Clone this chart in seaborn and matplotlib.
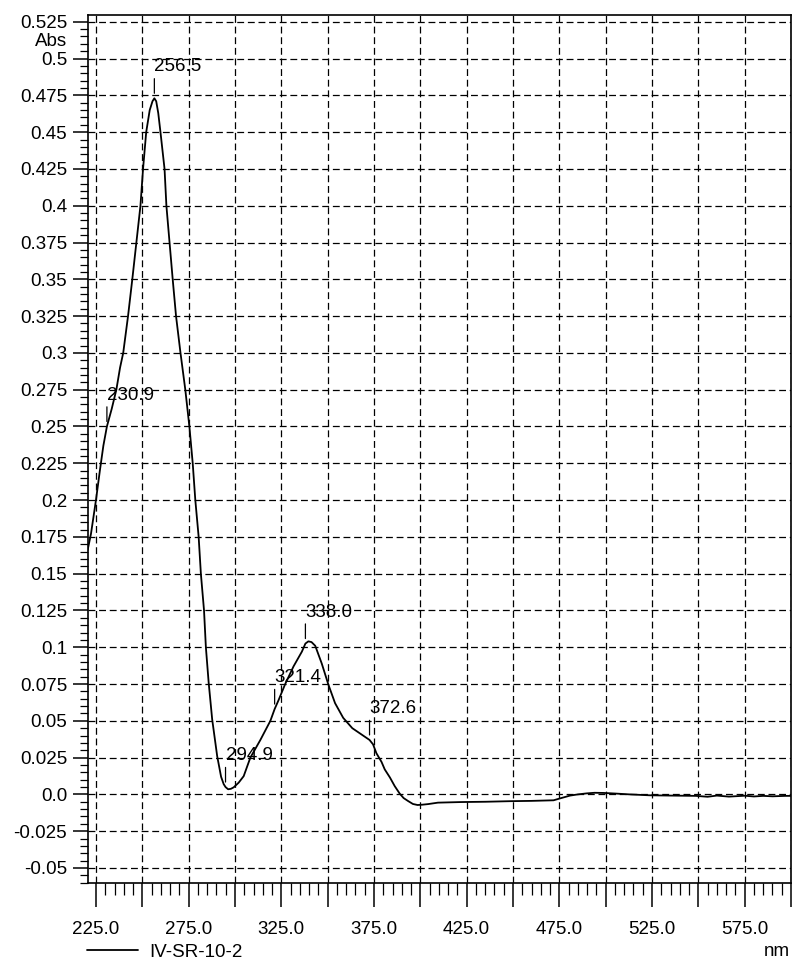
import numpy as np
import pandas as pd
import matplotlib
matplotlib.use("Agg")
import matplotlib.pyplot as plt
import seaborn as sns
from matplotlib.ticker import MultipleLocator, FixedLocator, FuncFormatter

# Absorption spectrum of sample IV-SR-10-2
sample_name = "IV-SR-10-2"

wavelength_nm = [
    220.5, 222.3, 225.0, 227.1, 229.0, 230.9, 233.5, 236.0, 238.0, 239.7,
    242.3, 244.6, 246.8, 249.0, 250.4, 252.1, 254.0, 255.5, 256.5, 257.5,
    258.6, 259.8, 262.0, 263.0, 264.7, 266.4, 268.2, 270.6, 273.2, 275.4,
    277.2, 278.6, 280.4, 281.6, 283.3, 284.3, 285.8, 287.7, 290.4, 292.5,
    293.9, 294.9, 296.3, 297.8, 299.3, 302.0, 304.7, 308.3, 313.7, 319.1,
    321.4, 323.5, 327.1, 331.6, 336.1, 338.0, 339.6, 341.3, 343.3, 346.8,
    350.4, 354.0, 358.4, 363.3, 368.3, 372.6, 374.5, 376.3, 379.1, 380.8,
    383.6, 386.2, 388.9, 391.0, 393.4, 396.0, 398.5, 401.0, 404.1, 409.5,
    421.8, 435.0, 448.5, 460.0, 471.9, 476.0, 480.8, 485.0, 489.8, 494.0,
    498.8, 505.0, 513.0, 523.6, 535.0, 548.7, 555.0, 560.0, 566.5, 575.0,
    580.0, 585.0, 590.0, 597.0, 600.0,
]
absorbance = [
    0.166, 0.177, 0.200, 0.220, 0.237, 0.250, 0.262, 0.275, 0.290, 0.300,
    0.325, 0.350, 0.375, 0.400, 0.425, 0.450, 0.465, 0.471, 0.473, 0.471,
    0.463, 0.450, 0.425, 0.400, 0.375, 0.350, 0.325, 0.300, 0.275, 0.250,
    0.225, 0.200, 0.175, 0.150, 0.125, 0.100, 0.076, 0.051, 0.026, 0.012,
    0.007, 0.005, 0.0035, 0.0038, 0.0048, 0.008, 0.0124, 0.025, 0.037, 0.050,
    0.058, 0.064, 0.075, 0.087, 0.097, 0.1025, 0.104, 0.1035, 0.101, 0.089,
    0.0746, 0.062, 0.052, 0.045, 0.0407, 0.037, 0.034, 0.028, 0.022, 0.017,
    0.0115, 0.0056, 0.0005, -0.0025, -0.0045, -0.0065, -0.0072, -0.0070, -0.0066, -0.0056,
    -0.0052, -0.0050, -0.0046, -0.0044, -0.0040, -0.0025, -0.0008, 0.0000, 0.0007, 0.0011,
    0.0010, 0.0006, 0.0000, -0.0006, -0.0008, -0.0010, -0.0016, -0.0008, -0.0015, -0.0009,
    -0.0014, -0.0010, -0.0013, -0.0010, -0.0010,
]

# Picked peaks / shoulders (wavelength, absorbance on the curve)
peak_nm = [230.9, 256.5, 294.9, 321.4, 338.0, 372.6]
peak_abs = [0.250, 0.473, 0.005, 0.058, 0.1025, 0.037]

x_labelled_ticks = [225, 275, 325, 375, 425, 475, 525, 575]
y_ticks = [-0.05, -0.025, 0.0, 0.025, 0.05, 0.075, 0.1, 0.125, 0.15, 0.175,
           0.2, 0.225, 0.25, 0.275, 0.3, 0.325, 0.35, 0.375, 0.4, 0.425,
           0.45, 0.475, 0.5, 0.525]

FS = 13.5

sns.set_style("ticks")
plt.rcParams["font.family"] = ["Liberation Sans", "DejaVu Sans"]
plt.rcParams["text.color"] = "black"
plt.rcParams["xtick.color"] = "black"
plt.rcParams["ytick.color"] = "black"
plt.rcParams["axes.edgecolor"] = "black"

W, H = 798, 963
fig = plt.figure(figsize=(W / 100, H / 100), dpi=100)
ax = fig.add_axes([88 / W, 1 - 883 / H, 703 / W, 868 / H])

df = pd.DataFrame({"nm": wavelength_nm, "Abs": absorbance})
sns.lineplot(data=df, x="nm", y="Abs", ax=ax, color="black", linewidth=1.3,
             estimator=None, label=sample_name)

ax.set_xlim(220.7, 600)
ax.set_ylim(-0.0602, 0.5296)

ax.xaxis.set_major_locator(MultipleLocator(25))
ax.xaxis.set_minor_locator(MultipleLocator(5))
ax.xaxis.set_major_formatter(FuncFormatter(
    lambda v, p: f"{v:.1f}" if int(round(v)) in x_labelled_ticks else ""))


def abs_fmt(v, p):
    s = f"{v:.3f}".rstrip("0")
    if s.endswith("."):
        s += "0"
    if s == "-0.0":
        s = "0.0"
    return s


ax.yaxis.set_major_locator(FixedLocator(y_ticks))
ax.yaxis.set_minor_locator(MultipleLocator(0.005))
ax.yaxis.set_major_formatter(FuncFormatter(abs_fmt))

ax.grid(which="major", color="black", linestyle=(0, (5.5, 3)), linewidth=0.9)
ax.tick_params(axis="y", which="major", length=11, width=1.1, pad=4, labelsize=FS)
ax.tick_params(axis="y", which="minor", length=6, width=0.9)
ax.tick_params(axis="x", which="major", length=17.5, width=1.1, pad=9.5, labelsize=FS)
ax.tick_params(axis="x", which="minor", length=8.6, width=0.9)
for s in ax.spines.values():
    s.set_visible(True)
    s.set_linewidth(1.2)
    s.set_color("black")

ax.set_xlabel("")
ax.set_ylabel("")

# Peak labels with short vertical markers above the curve
for x, y in zip(peak_nm, peak_abs):
    ax.annotate(f"{x:.1f}", xy=(x, y), xycoords="data",
                xytext=(0, 16.5), textcoords="offset points",
                ha="left", va="bottom", fontsize=FS,
                arrowprops=dict(arrowstyle="-", color="black", lw=0.9,
                                relpos=(0, 0), shrinkA=0, shrinkB=3.6))

fig.text(67 / W, 1 - 41 / H, "Abs", ha="right", va="center", fontsize=FS)
fig.text(790 / W, 1 - 951 / H, "nm", ha="right", va="center", fontsize=FS)

ax.legend(loc="center left", bbox_to_anchor=(87 / W, 1 - 952 / H),
          bbox_transform=fig.transFigure, frameon=False, fontsize=FS,
          handlelength=2.7, handletextpad=0.6, borderpad=0, borderaxespad=0)

fig.savefig("out.png", dpi=100)
